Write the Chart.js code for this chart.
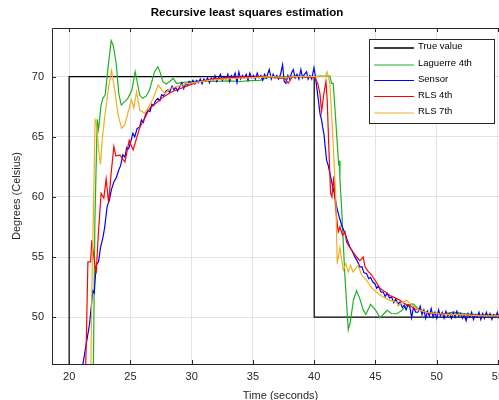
<!DOCTYPE html>
<html>
<head>
<meta charset="utf-8">
<script src="https://cdn.jsdelivr.net/npm/chart.js@4/dist/chart.umd.min.js"></script>
<style>
  html, body { margin: 0; padding: 0; background: #fff; overflow: hidden; }
  #wrap { width: 520px; height: 410px; }
</style>
</head>
<body>
<div id="wrap"><canvas id="rlsChart" width="520" height="410"></canvas></div>
<script>
// titres et légende
const chartTitle = 'Recursive least squares estimation';
const xTitle = 'Time (seconds)';
const yTitle = 'Degrees (Celsius)';
const seriesNames = ['True value', 'Laguerre 4th', 'Sensor', 'RLS 4th', 'RLS 7th'];
const xTicks = [20, 25, 30, 35, 40, 45, 50, 55];
const yTicks = [50, 55, 60, 65, 70];

// valeur vraie (échelon)
const trueTime = [15, 20, 20, 40, 40, 56];
const trueTemp = [40, 40, 70, 70, 50, 50];

// Laguerre 4th
const laguerreTime = [21.96, 22.1, 22.29, 22.4, 22.6, 22.75, 22.94, 23.2, 23.43, 23.6, 23.84, 24.05, 24.25,
  24.5, 24.79, 25.12, 25.39, 25.55, 25.75, 26.0, 26.3, 26.56, 26.97, 27.24, 27.45, 27.65, 27.92, 28.2, 28.49,
  28.77, 29.2, 30.0, 31.0, 32.0, 33.0, 34.0, 34.75, 35.57, 36.0, 36.5, 37.5, 38.5, 39.5, 40.5, 41.28, 41.42,
  41.55, 41.75, 42.0, 42.05, 42.1, 42.24, 42.5, 42.78, 42.95, 43.2, 43.46, 43.7, 44.0, 44.22, 44.6, 45.0,
  45.36, 45.7, 45.96, 46.3, 46.73, 47.1, 47.54, 48.08, 48.5, 49.0, 49.5, 50.5, 51.35, 52.5, 53.5, 55.9];
const laguerreTemp = [44.0, 58.0, 66.45, 65.6, 67.6, 68.2, 68.47, 71.0, 73.0, 72.6, 71.1, 68.6, 67.64,
  67.9, 68.2, 68.89, 70.42, 69.6, 68.47, 68.2, 68.4, 68.89, 70.42, 70.83, 70.3, 69.58, 69.39, 69.6, 69.86,
  69.45, 69.5, 69.6, 69.65, 69.6, 69.65, 69.6, 69.67, 69.7, 69.85, 70.0, 70.0, 70.05, 70.0, 70.05, 70.05, 69.45,
  69.45, 66.5, 62.6, 63.0, 61.5, 59.0, 53.5, 48.95, 49.6, 51.4, 52.2, 51.6, 50.6, 50.22, 51.06, 50.6,
  49.95, 50.3, 50.56, 50.3, 50.28, 50.5, 50.98, 51.1, 50.7, 50.45, 50.35, 50.25, 50.42, 50.25, 50.2, 50.15];

// capteur (mesure bruitée)
const sensorTime = [20.9, 21.12, 21.4, 21.67, 21.93, 22.05, 22.2, 22.4, 22.56, 22.75, 22.89, 23.1, 23.3, 23.45,
  23.65, 23.85, 24.03, 24.2, 24.38, 24.55, 24.7, 24.85, 25.06, 25.2, 25.35, 25.55, 25.75, 25.9, 26.05, 26.25,
  26.42, 26.6, 26.75, 26.9, 27.05, 27.24, 27.4, 27.55, 27.7, 27.9, 28.06, 28.2, 28.4, 28.55, 28.7, 28.85,
  29.04, 29.2, 29.35, 29.5, 29.65, 29.8, 29.95, 30.1, 30.25, 30.4, 30.55, 30.7, 30.85, 31.0, 31.15, 31.3,
  31.45, 31.6, 31.75, 31.9, 32.05, 32.2, 32.35, 32.5, 32.65, 32.8, 32.95, 33.1, 33.25, 33.4, 33.55, 33.7,
  33.85, 34.0, 34.15, 34.3, 34.45, 34.6, 34.75, 34.9, 35.05, 35.2, 35.35, 35.5, 35.65, 35.8, 35.95, 36.1,
  36.33, 36.5, 36.65, 36.8, 36.95, 37.1, 37.25, 37.42, 37.55, 37.69, 37.85, 38.0, 38.15, 38.29, 38.45, 38.6,
  38.75, 38.91, 39.05, 39.2, 39.38, 39.5, 39.65, 39.8, 39.98, 40.1, 40.2, 40.35, 40.47, 40.6, 40.69, 40.8,
  40.87, 41.01, 41.15, 41.28, 41.42, 41.55, 41.7, 41.83, 42.04, 42.15, 42.24, 42.38, 42.51, 42.7, 42.91, 43.1,
  43.32, 43.5, 43.73, 43.9, 44.05, 44.28, 44.45, 44.6, 44.8, 44.96, 45.1, 45.25, 45.45, 45.64, 45.8, 45.95,
  46.15, 46.32, 46.5, 46.65, 46.85, 47.0, 47.2, 47.35, 47.5, 47.65, 47.81, 47.95, 48.1, 48.3, 48.49, 48.65,
  48.8, 48.95, 49.1, 49.25, 49.4, 49.55, 49.7, 49.85, 50.0, 50.15, 50.3, 50.45, 50.6, 50.75, 50.9, 51.05,
  51.2, 51.35, 51.5, 51.65, 51.8, 51.95, 52.1, 52.25, 52.4, 52.55, 52.7, 52.85, 53.0, 53.15, 53.3, 53.45,
  53.6, 53.75, 53.9, 54.05, 54.2, 54.35, 54.5, 54.65, 54.8, 54.95, 55.1, 55.3, 55.5, 55.7, 55.9];
const sensorTemp = [44.5, 46.06, 47.8, 49.45, 52.2, 52.0, 54.3, 54.6, 55.8, 56.6, 57.4, 59.2, 59.8, 60.6,
  61.25, 61.6, 62.2, 62.6, 63.5, 63.3, 64.1, 64.0, 64.7, 65.3, 65.0, 65.7, 65.8, 66.4, 66.2, 66.9,
  67.2, 67.1, 67.7, 67.6, 68.0, 68.2, 68.0, 68.5, 68.4, 68.8, 68.9, 68.7, 69.2, 68.9, 69.1, 68.8,
  69.2, 69.5, 69.0, 69.4, 69.3, 69.6, 69.4, 69.7, 69.4, 69.7, 69.5, 69.8, 69.4, 69.8, 69.6, 69.9,
  69.5, 69.9, 69.7, 70.1, 69.6, 69.9, 70.2, 69.7, 70.0, 69.8, 70.2, 69.6, 70.1, 69.9, 70.3, 69.5,
  70.4, 69.8, 70.1, 69.9, 70.2, 69.7, 70.3, 69.9, 70.1, 69.8, 70.3, 69.9, 70.1, 69.7, 70.2, 69.9,
  70.6, 69.8, 70.2, 69.9, 70.1, 69.8, 70.2, 71.0, 69.6, 69.45, 70.1, 69.8, 70.3, 70.6, 69.9, 70.2,
  69.8, 70.6, 69.9, 70.2, 70.4, 69.8, 70.1, 69.8, 70.75, 70.0, 69.2, 68.0, 66.95, 66.4, 65.8, 65.2,
  64.45, 63.06, 62.6, 61.95, 61.3, 60.7, 60.0, 59.2, 58.33, 58.0, 57.6, 57.3, 56.95, 56.4, 55.83, 55.5,
  55.0, 54.7, 54.17, 54.2, 53.7, 53.61, 53.2, 53.3, 52.9, 52.78, 52.4, 52.6, 52.1, 52.08, 51.7, 52.0,
  51.6, 51.67, 51.2, 51.5, 51.1, 51.25, 50.8, 51.0, 50.6, 51.0, 50.83, 49.95, 50.8, 50.4, 50.42, 50.9,
  50.2, 50.6, 49.9, 50.5, 50.1, 50.7, 50.0, 50.4, 49.9, 50.6, 50.1, 50.4, 49.9, 50.5, 50.1, 50.3,
  49.9, 50.4, 50.0, 50.5, 50.1, 50.3, 49.9, 50.2, 49.7, 50.3, 50.0, 50.4, 49.8, 50.2, 50.0, 50.4,
  49.8, 50.3, 49.9, 50.4, 50.0, 50.3, 49.8, 50.2, 50.0, 50.4, 49.9, 50.2, 49.9, 50.2, 50.0];

// RLS 4th
const rls4Time = [21.3, 21.4, 21.53, 21.75, 21.85, 22.02, 22.2, 22.4, 22.61, 22.83, 23.02, 23.22, 23.43,
  23.65, 23.81, 24.14, 24.55, 24.9, 25.22, 25.77, 26.2, 26.59, 27.1, 27.67, 28.3, 29.04, 29.8, 30.67, 31.7,
  32.85, 34.0, 35.0, 36.0, 37.0, 37.6, 37.88, 38.2, 38.7, 39.2, 39.8, 40.06, 40.3, 40.47, 40.6, 40.79, 40.96,
  41.06, 41.18, 41.34, 41.45, 41.6, 41.75, 41.96, 42.1, 42.32, 42.51, 42.64, 42.9, 43.18, 43.45, 43.73,
  44.0, 44.14, 44.4, 44.69, 45.0, 45.36, 45.8, 46.18, 46.6, 47.0, 47.4, 47.81, 48.2, 48.63, 49.2, 50.0,
  51.0, 52.0, 53.0, 54.0, 55.9];
const rls4Temp = [44.0, 48.0, 54.6, 54.6, 56.4, 55.0, 53.6, 57.2, 60.3, 59.9, 61.5, 59.5, 62.0,
  64.2, 63.4, 63.5, 62.9, 64.7, 63.9, 65.8, 66.6, 67.4, 67.8, 68.3, 68.7, 69.0, 69.3, 69.6, 69.8,
  69.9, 70.0, 69.95, 70.05, 69.9, 69.85, 69.45, 69.95, 70.05, 69.95, 70.0, 69.9, 69.4, 68.6, 67.1, 68.6, 69.6,
  68.1, 64.5, 60.3, 60.0, 61.7, 59.0, 57.1, 57.5, 56.8, 57.1, 56.25, 55.8, 55.4, 55.0, 54.7,
  55.0, 54.2, 53.8, 53.5, 53.0, 52.4, 52.1, 51.8, 51.6, 51.4, 51.1, 50.97, 50.7, 50.56, 50.4, 50.3,
  50.25, 50.2, 50.15, 50.1, 50.1];

// RLS 7th
const rls7Time = [21.75, 21.85, 22.0, 22.12, 22.23, 22.4, 22.56, 22.7, 22.91, 23.2, 23.46, 23.7, 24.0,
  24.28, 24.55, 24.8, 25.09, 25.28, 25.5, 25.77, 26.18, 26.5, 26.86, 27.27, 27.55, 27.81, 28.22, 28.8, 29.5,
  30.5, 31.5, 32.5, 33.5, 34.5, 35.5, 36.5, 37.5, 38.5, 39.5, 40.5, 40.87, 41.06, 41.28, 41.55, 41.77, 41.88,
  42.1, 42.37, 42.59, 42.78, 42.97, 43.18, 43.59, 43.87, 44.28, 44.69, 45.23, 45.64, 46.18, 46.73, 46.86,
  47.0, 47.54, 48.0, 48.5, 49.2, 50.0, 51.0, 52.0, 53.0, 54.0, 55.9];
const rls7Temp = [44.0, 52.0, 60.0, 66.4, 66.1, 64.0, 62.7, 64.8, 66.7, 69.0, 70.5, 69.0, 66.8,
  65.7, 66.0, 67.0, 68.06, 67.4, 68.75, 67.2, 66.95, 67.5, 68.2, 69.3, 68.9, 68.6, 69.0, 69.2, 69.4,
  69.55, 69.7, 69.8, 69.85, 69.9, 69.95, 70.0, 69.95, 70.0, 70.0, 70.0, 70.0, 70.4, 69.45, 64.45, 59.7, 54.45,
  55.8, 53.9, 54.45, 53.75, 54.3, 53.75, 54.3, 53.5, 53.06, 52.44, 51.94, 51.67, 51.39, 51.25, 50.9,
  51.1, 51.4, 51.0, 50.6, 50.4, 50.3, 50.2, 50.2, 50.15, 50.1, 50.1];

const seriesColors = ['#000000', '#1fb01f', '#0000ff', '#ff0000', '#edb120'];

function toPoints(xs, ys) {
  return xs.map((x, i) => ({ x: x, y: ys[i] }));
}

const allSeries = [
  toPoints(trueTime, trueTemp),
  toPoints(laguerreTime, laguerreTemp),
  toPoints(sensorTime, sensorTemp),
  toPoints(rls4Time, rls4Temp),
  toPoints(rls7Time, rls7Temp)
];

// cadre façon matlab + légende + titre
const matlabFrame = {
  id: 'matlabFrame',
  afterDatasetsDraw(chart) {
    const ctx = chart.ctx;
    const a = chart.chartArea;
    const xs = chart.scales.x;
    const ys = chart.scales.y;
    ctx.save();
    ctx.strokeStyle = '#262626';
    ctx.lineWidth = 1;
    ctx.beginPath();
    ctx.moveTo(Math.round(a.left) + 0.5, Math.round(a.bottom) + 0.5);
    ctx.lineTo(Math.round(a.left) + 0.5, Math.round(a.top) + 0.5);
    ctx.lineTo(a.right, Math.round(a.top) + 0.5);
    ctx.moveTo(Math.round(a.left), Math.round(a.bottom) + 0.5);
    ctx.lineTo(a.right, Math.round(a.bottom) + 0.5);
    xTicks.forEach(v => {
      const px = Math.round(xs.getPixelForValue(v)) + 0.5;
      ctx.moveTo(px, a.bottom); ctx.lineTo(px, a.bottom - 4);
      ctx.moveTo(px, a.top); ctx.lineTo(px, a.top + 4);
    });
    yTicks.forEach(v => {
      const py = Math.round(ys.getPixelForValue(v)) + 0.5;
      ctx.moveTo(a.left, py); ctx.lineTo(a.left + 4, py);
    });
    ctx.stroke();

    // légende
    const rows = [48, 65, 80.5, 96.5, 113];
    ctx.fillStyle = '#ffffff';
    ctx.fillRect(369.5, 39.5, 125, 84);
    ctx.strokeStyle = '#262626';
    ctx.strokeRect(369.5, 39.5, 125, 84);
    ctx.font = '9.5px "Liberation Sans", Arial, sans-serif';
    ctx.textAlign = 'left';
    ctx.textBaseline = 'middle';
    seriesNames.forEach((name, i) => {
      ctx.strokeStyle = seriesColors[i];
      ctx.lineWidth = i === 0 ? 1.5 : 1.2;
      ctx.beginPath();
      ctx.moveTo(374, rows[i]);
      ctx.lineTo(414, rows[i]);
      ctx.stroke();
      ctx.fillStyle = '#000000';
      ctx.fillText(name, 418, rows[i] - 1.5);
    });

    // titre
    ctx.font = 'bold 11.5px "Liberation Sans", Arial, sans-serif';
    ctx.textAlign = 'center';
    ctx.fillStyle = '#000000';
    ctx.fillText(chartTitle, 247, 13);
    ctx.restore();
  }
};

const ctx = document.getElementById('rlsChart').getContext('2d');
new Chart(ctx, {
  type: 'line',
  data: {
    datasets: allSeries.map((pts, i) => ({
      label: seriesNames[i],
      data: pts,
      borderColor: seriesColors[i],
      borderWidth: 1.2,
      pointRadius: 0,
      tension: 0,
      fill: false,
      order: 4 - i
    }))
  },
  options: {
    responsive: false,
    animation: false,
    devicePixelRatio: 1,
    layout: { padding: { top: 28, right: 11, left: 0, bottom: 0 } },
    plugins: {
      legend: { display: false },
      title: { display: false },
      tooltip: { enabled: false }
    },
    scales: {
      x: {
        type: 'linear',
        min: 18.6,
        max: 55.9,
        afterFit: s => { s.height = 46; },
        afterBuildTicks: s => { s.ticks = xTicks.map(v => ({ value: v })); },
        ticks: { font: { size: 11, family: '"Liberation Sans", Arial' }, color: '#262626', padding: 6, maxRotation: 0 },
        grid: { color: '#e3e3e3', drawTicks: false },
        border: { display: false },
        title: {
          display: true, text: xTitle, color: '#262626',
          font: { size: 11, family: '"Liberation Sans", Arial' },
          padding: { top: 0, bottom: 7 }
        }
      },
      y: {
        type: 'linear',
        min: 46.1,
        max: 74.05,
        afterFit: s => { s.width = 52; },
        afterBuildTicks: s => { s.ticks = yTicks.map(v => ({ value: v })); },
        ticks: { font: { size: 11, family: '"Liberation Sans", Arial' }, color: '#262626', padding: 8 },
        grid: { color: '#e3e3e3', drawTicks: false },
        border: { display: false },
        title: {
          display: true, text: yTitle, color: '#262626',
          font: { size: 11, family: '"Liberation Sans", Arial' },
          padding: { top: 10, bottom: 0 }
        }
      }
    }
  },
  plugins: [matlabFrame]
});
</script>
</body>
</html>
